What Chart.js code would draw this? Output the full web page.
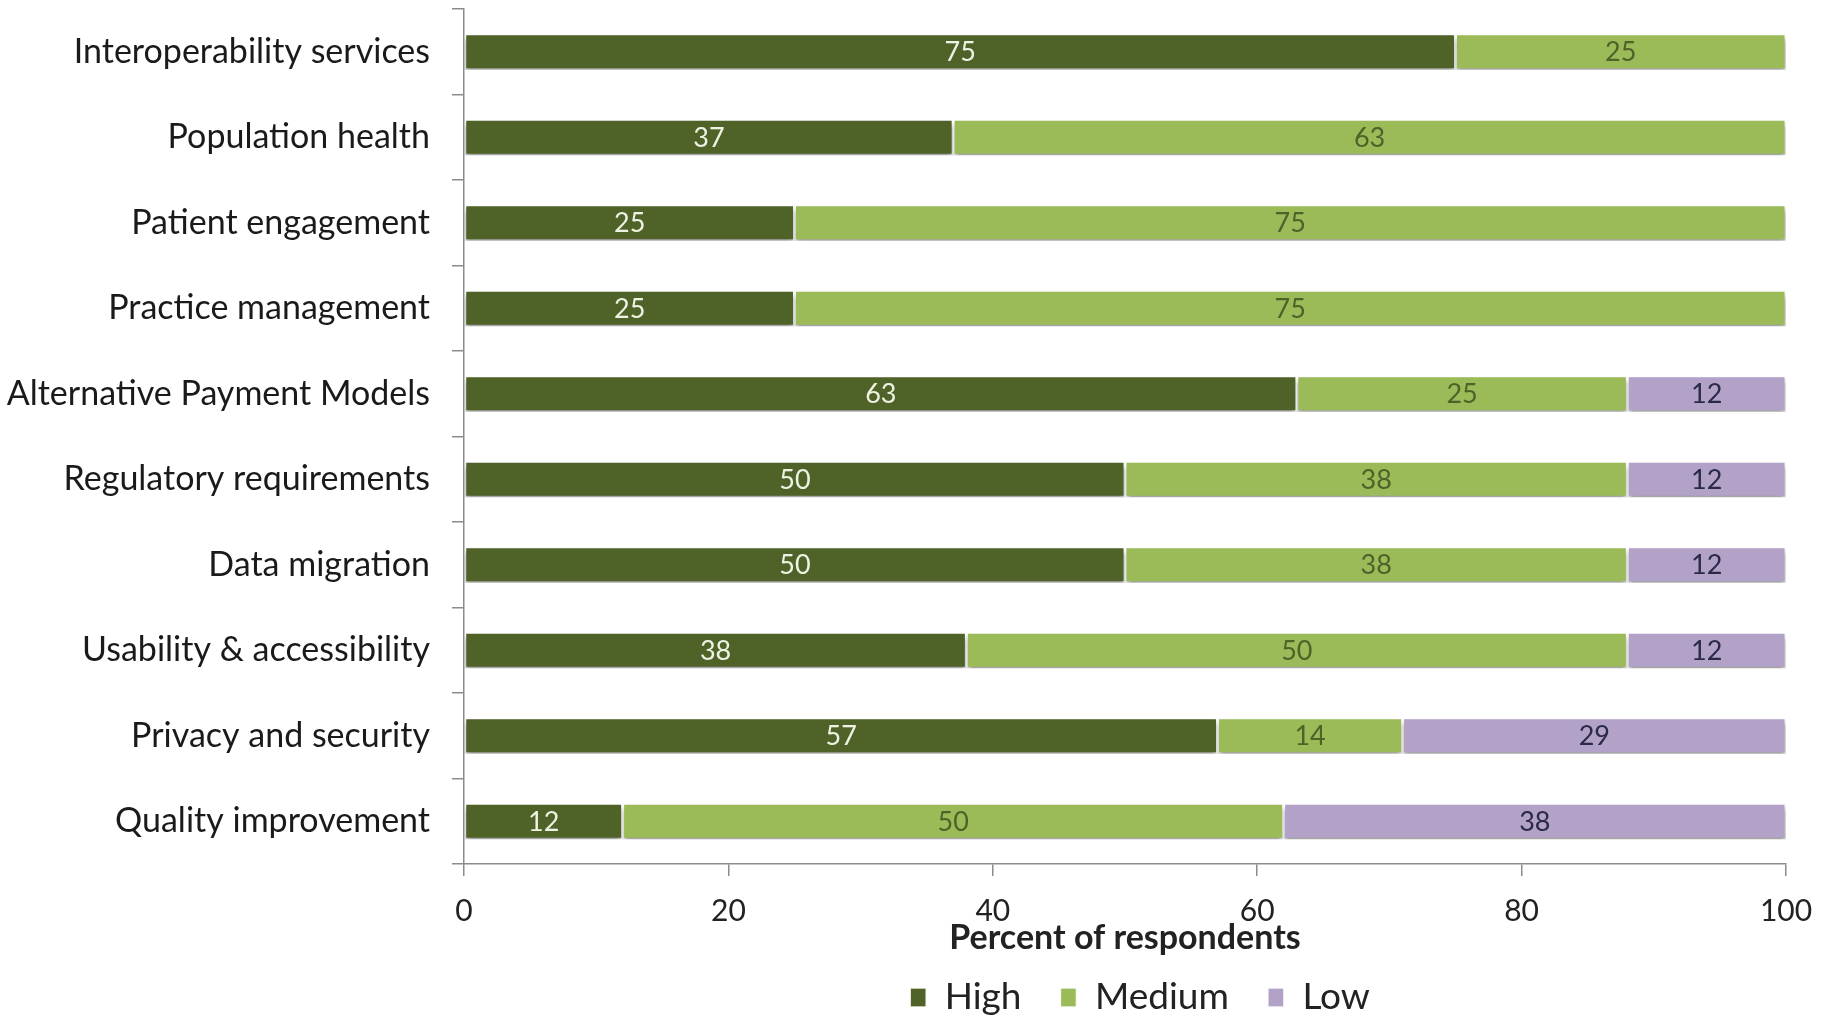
<!DOCTYPE html>
<html>
<head>
<meta charset="utf-8">
<script src="https://cdn.jsdelivr.net/npm/chart.js@4.4.1/dist/chart.umd.min.js"></script>
<style>
  html, body { margin: 0; padding: 0; background: #fff; overflow: hidden; }
  #wrap { width: 1825px; height: 1015px; }
</style>
</head>
<body>
<div id="wrap"><canvas id="chart-priorities"></canvas></div>
<script>
// Categories, top to bottom
var categories = ["Interoperability services", "Population health", "Patient engagement", "Practice management",
  "Alternative Payment Models", "Regulatory requirements", "Data migration", "Usability & accessibility",
  "Privacy and security", "Quality improvement"];
var high   = [75, 37, 25, 25, 63, 50, 50, 38, 57, 12];
var medium = [25, 63, 75, 75, 25, 38, 38, 50, 14, 50];
var low    = [null, null, null, null, 12, 12, 12, 12, 29, 38];
var xTicks = [0, 20, 40, 60, 80, 100];

var labelColors = ['#eef2e2', '#4f6228', '#2a2a48'];

// soft drop shadow under the bars
var barShadow = {
  id: 'barShadow',
  beforeDatasetsDraw: function(chart) {
    var ctx = chart.ctx;
    ctx.save();
    ctx.shadowColor = 'rgba(0,0,0,0.4)';
    ctx.shadowBlur = 5;
    ctx.shadowOffsetY = 4;
  },
  afterDatasetsDraw: function(chart) {
    chart.ctx.restore();
  }
};

// value written in the middle of each segment
var valueLabels = {
  id: 'valueLabels',
  afterDatasetsDraw: function(chart) {
    var ctx = chart.ctx;
    ctx.save();
    ctx.font = '27px Lato';
    ctx.textAlign = 'center';
    ctx.textBaseline = 'middle';
    chart.data.datasets.forEach(function(ds, i) {
      var meta = chart.getDatasetMeta(i);
      meta.data.forEach(function(bar, j) {
        var v = ds.data[j];
        if (v == null) return;
        var p = bar.getCenterPoint();
        ctx.fillStyle = labelColors[i];
        ctx.fillText(v, p.x, p.y + 1);
      });
    });
    ctx.restore();
  }
};

// nudge the legend a little to the right of the plot centre
var legendShift = {
  id: 'legendShift',
  afterLayout: function(chart) {
    chart.legend.left += 15;
    chart.legend.right += 15;
  }
};

var axisGrey = '#8c8c8c';

var ctx = document.getElementById("chart-priorities").getContext('2d');
var myChart = new Chart(ctx, {
  type: 'bar',
  data: {
    labels: categories,
    datasets: [
      { label: 'High', data: high, backgroundColor: '#4f6228' },
      { label: 'Medium', data: medium, backgroundColor: '#9bbb59' },
      { label: 'Low', data: low, backgroundColor: '#b3a2c7' }
    ]
  },
  options: {
    indexAxis: 'y',
    responsive: true,
    maintainAspectRatio: false,
    animation: false,
    layout: { padding: { top: 9, right: 39, bottom: -11, left: 0 } },
    datasets: {
      bar: {
        categoryPercentage: 0.42,
        barPercentage: 1,
        borderWidth: 1.5,
        borderColor: 'rgba(255,255,255,0.85)',
        borderSkipped: false
      }
    },
    scales: {
      x: {
        stacked: true,
        min: 0,
        max: 100,
        afterBuildTicks: function(axis) {
          axis.ticks = xTicks.map(function(v) { return { value: v }; });
        },
        afterFit: function(scale) {
          scale.height = 76;
          scale.paddingLeft = 0;
          scale.paddingRight = 0;
        },
        border: { color: axisGrey, width: 1.5 },
        grid: { drawOnChartArea: false, drawTicks: true, tickLength: 12, color: axisGrey, lineWidth: 1.5 },
        ticks: { padding: 17, color: '#222', font: { family: 'Lato', size: 30 } },
        title: {
          display: true,
          text: 'Percent of respondents',
          color: '#222',
          font: { family: 'Lato', size: 34, weight: 'bold' },
          padding: { top: 0, bottom: -18 }
        }
      },
      y: {
        stacked: true,
        afterFit: function(scale) {
          scale.width = 464;
          scale.paddingTop = 0;
          scale.paddingBottom = 0;
        },
        border: { color: axisGrey, width: 1.5 },
        grid: { offset: true, drawOnChartArea: false, drawTicks: true, tickLength: 12, color: axisGrey, lineWidth: 1.5 },
        ticks: { padding: 22, color: '#1a1a1a', font: { family: 'Lato', size: 34 } }
      }
    },
    plugins: {
      legend: {
        position: 'bottom',
        fullSize: false,
        labels: {
          boxWidth: 16,
          boxHeight: 19,
          padding: 39,
          color: '#222',
          font: { family: 'Lato', size: 37 }
        }
      },
      tooltip: { enabled: false }
    }
  },
  plugins: [barShadow, valueLabels, legendShift]
});
</script>
</body>
</html>
